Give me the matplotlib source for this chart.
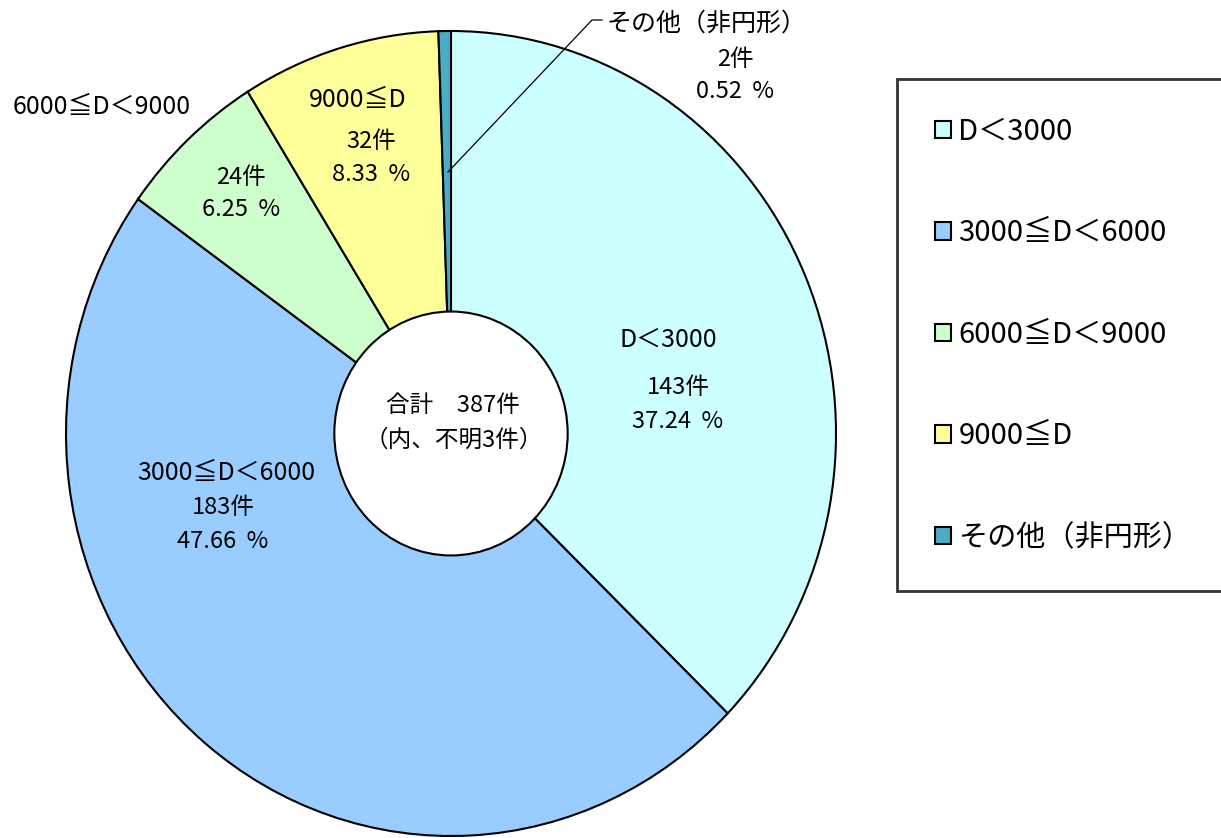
import matplotlib
matplotlib.use("Agg")
import matplotlib.pyplot as plt
from matplotlib.patches import Patch, Circle

plt.rcParams['font.family'] = ['Noto Sans CJK JP', 'DejaVu Sans']

# data
categories = ['D＜3000', '3000≦D＜6000', '6000≦D＜9000', '9000≦D', 'その他（非円形）']
counts = [143, 183, 24, 32, 2]
percents = ['37.24  %', '47.66  %', '6.25  %', '8.33  %', '0.52  %']
colors = ['#CCFFFF', '#99CCFF', '#CCFFCC', '#FFFF99', '#4BACC6']
total_label = '合計　387件'
unknown_label = '（内、不明3件）'

W, H = 1221, 838
fig = plt.figure(figsize=(W / 100, H / 100), dpi=100)

# pie occupies pixels x 66..836, y 31..836 (slightly taller than wide)
left, right, top, bottom = 66, 836, 31, 836
ax = fig.add_axes([left / W, 1 - bottom / H, (right - left) / W, (bottom - top) / H])

wedges, _ = ax.pie(counts, colors=colors, startangle=90, counterclock=False,
                   radius=1, wedgeprops=dict(edgecolor='black', linewidth=1.5))
for w in wedges:
    w.set_clip_on(False)
ax.set_aspect('auto')
ax.set_xlim(-1, 1)
ax.set_ylim(-1, 1)
ax.axis('off')

# white centre
hole = Circle((0, 0), 0.303, facecolor='white', edgecolor='black', linewidth=1.5,
              zorder=5, clip_on=False)
ax.add_patch(hole)


def pos(px, py):
    # pixel position in the picture -> data coords of the pie axes
    x = (px - left) / (right - left) * 2 - 1
    y = 1 - (py - top) / (bottom - top) * 2
    return x, y


def label(px, py, s, size=17, ha='center'):
    x, y = pos(px, py)
    ax.text(x, y, s, ha=ha, va='center', fontsize=size, zorder=6, clip_on=False)


# centre text
label(453, 405, total_label, 17)
label(454, 440, unknown_label, 17)

# D<3000
label(668, 340, categories[0], 18)
label(678, 388, f'{counts[0]}件')
label(678, 422, percents[0])

# 3000<=D<6000
label(226, 473, categories[1], 18)
label(223, 508, f'{counts[1]}件')
label(223, 542, percents[1])

# 6000<=D<9000 (name outside)
label(102, 107, categories[2], 18)
label(241, 178, f'{counts[2]}件')
label(241, 210, percents[2])

# 9000<=D
label(358, 100, categories[3], 18)
label(371, 142, f'{counts[3]}件')
label(371, 175, percents[3])

# other, with leader line
label(606, 24, categories[4], 18, ha='left')
label(735, 60, f'{counts[4]}件')
label(735, 92, percents[4])
x0, y0 = pos(448, 172)
x1, y1 = pos(592, 20)
x2, y2 = pos(602, 20)
ax.plot([x0, x1, x2], [y0, y1, y2], color='black', lw=0.9, clip_on=False, zorder=6)

# legend
handles = [Patch(facecolor=c, edgecolor='black', linewidth=1.5) for c in colors]
leg = fig.legend(handles, categories, loc='upper left',
                 bbox_to_anchor=(897 / W, 1 - 79 / H), fontsize=21,
                 frameon=True, fancybox=False, edgecolor='black',
                 borderpad=1.3, labelspacing=2.45, handlelength=0.55,
                 handleheight=0.55, handletextpad=0.25, borderaxespad=0)
leg.get_frame().set_linewidth(2)

fig.savefig('out.png', dpi=100)
